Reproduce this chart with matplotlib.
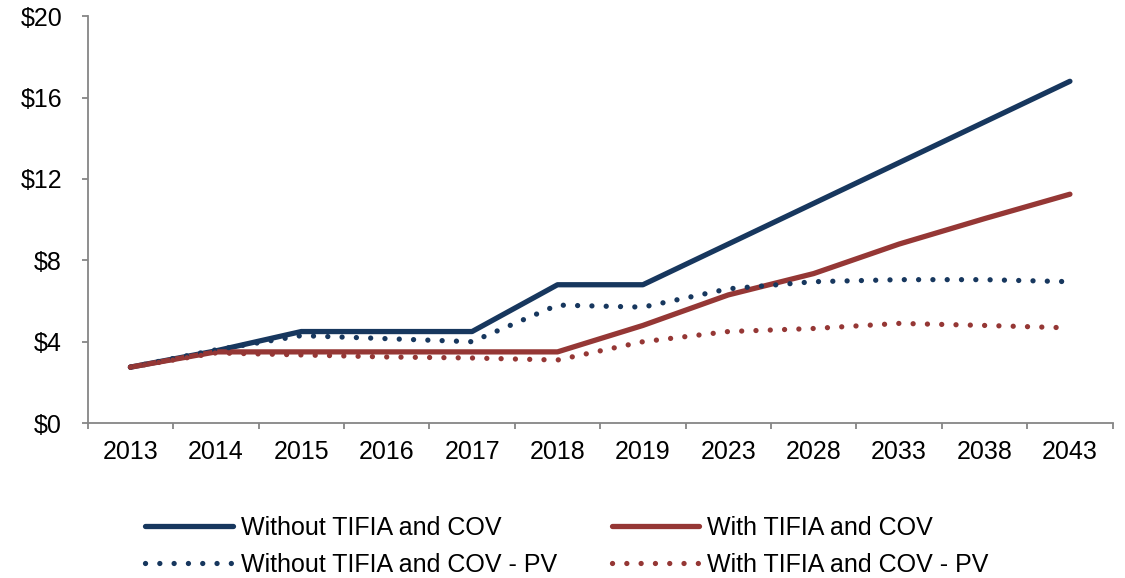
import matplotlib.pyplot as plt
from matplotlib.ticker import FixedLocator, NullFormatter

plt.rcParams['font.family'] = ['Liberation Sans', 'DejaVu Sans']

# data ($)
years = ['2013', '2014', '2015', '2016', '2017', '2018', '2019', '2023', '2028', '2033', '2038', '2043']
without_cov = [2.75, 3.55, 4.5, 4.5, 4.5, 6.8, 6.8, 8.8, 10.8, 12.8, 14.8, 16.8]
with_cov = [2.75, 3.5, 3.5, 3.5, 3.5, 3.5, 4.8, 6.3, 7.35, 8.8, 10.05, 11.25]
without_cov_pv = [2.75, 3.6, 4.3, 4.15, 4.0, 5.8, 5.7, 6.6, 6.95, 7.05, 7.05, 6.95]
with_cov_pv = [2.75, 3.45, 3.35, 3.25, 3.2, 3.1, 4.0, 4.5, 4.65, 4.9, 4.8, 4.68]

blue = '#17375E'
red = '#953735'
grey = '#868686'
fs = 18

fig = plt.figure(figsize=(11.25, 5.78), dpi=100)
ax = fig.add_axes([0.078, 0.268, 0.911, 0.704])

x = range(len(years))
dots = (0, (0.01, 2.7))
l1, = ax.plot(x, without_cov, color=blue, lw=3.8, solid_capstyle='round', solid_joinstyle='round')
l3, = ax.plot(x, with_cov, color=red, lw=3.8, solid_capstyle='round', solid_joinstyle='round')
l2, = ax.plot(x, without_cov_pv, color=blue, lw=3.8, linestyle=dots, dash_capstyle='round')
l4, = ax.plot(x, with_cov_pv, color=red, lw=3.8, linestyle=dots, dash_capstyle='round')

ax.set_xlim(-0.5, len(years) - 0.5)
ax.set_ylim(0, 20)
ax.set_yticks([0, 4, 8, 12, 16, 20])
ax.set_yticklabels(['$0', '$4', '$8', '$12', '$16', '$20'])

# category labels centered, tick marks between categories
ax.set_xticks(list(x))
ax.set_xticklabels(years)
ax.xaxis.set_minor_locator(FixedLocator([i - 0.5 for i in range(len(years) + 1)]))
ax.xaxis.set_minor_formatter(NullFormatter())
ax.tick_params(axis='x', which='major', length=0, pad=12, labelsize=fs)
ax.tick_params(axis='x', which='minor', length=4.5, width=1.3, color=grey, direction='out')
ax.tick_params(axis='y', length=4.5, width=1.3, color=grey, direction='out', labelsize=fs, pad=14)

for s in ['top', 'right']:
    ax.spines[s].set_visible(False)
for s in ['left', 'bottom']:
    ax.spines[s].set_color(grey)
    ax.spines[s].set_linewidth(1.3)

fig.legend([l1, l2, l3, l4],
           ['Without TIFIA and COV', 'Without TIFIA and COV - PV',
            'With TIFIA and COV', 'With TIFIA and COV - PV'],
           ncol=2, loc='upper left', bbox_to_anchor=(0.129, 0.107),
           frameon=False, fontsize=fs, handlelength=3.5, handletextpad=0.32,
           columnspacing=2.2, labelspacing=0.52, borderaxespad=0, borderpad=0)

plt.savefig('out.png', dpi=100)
